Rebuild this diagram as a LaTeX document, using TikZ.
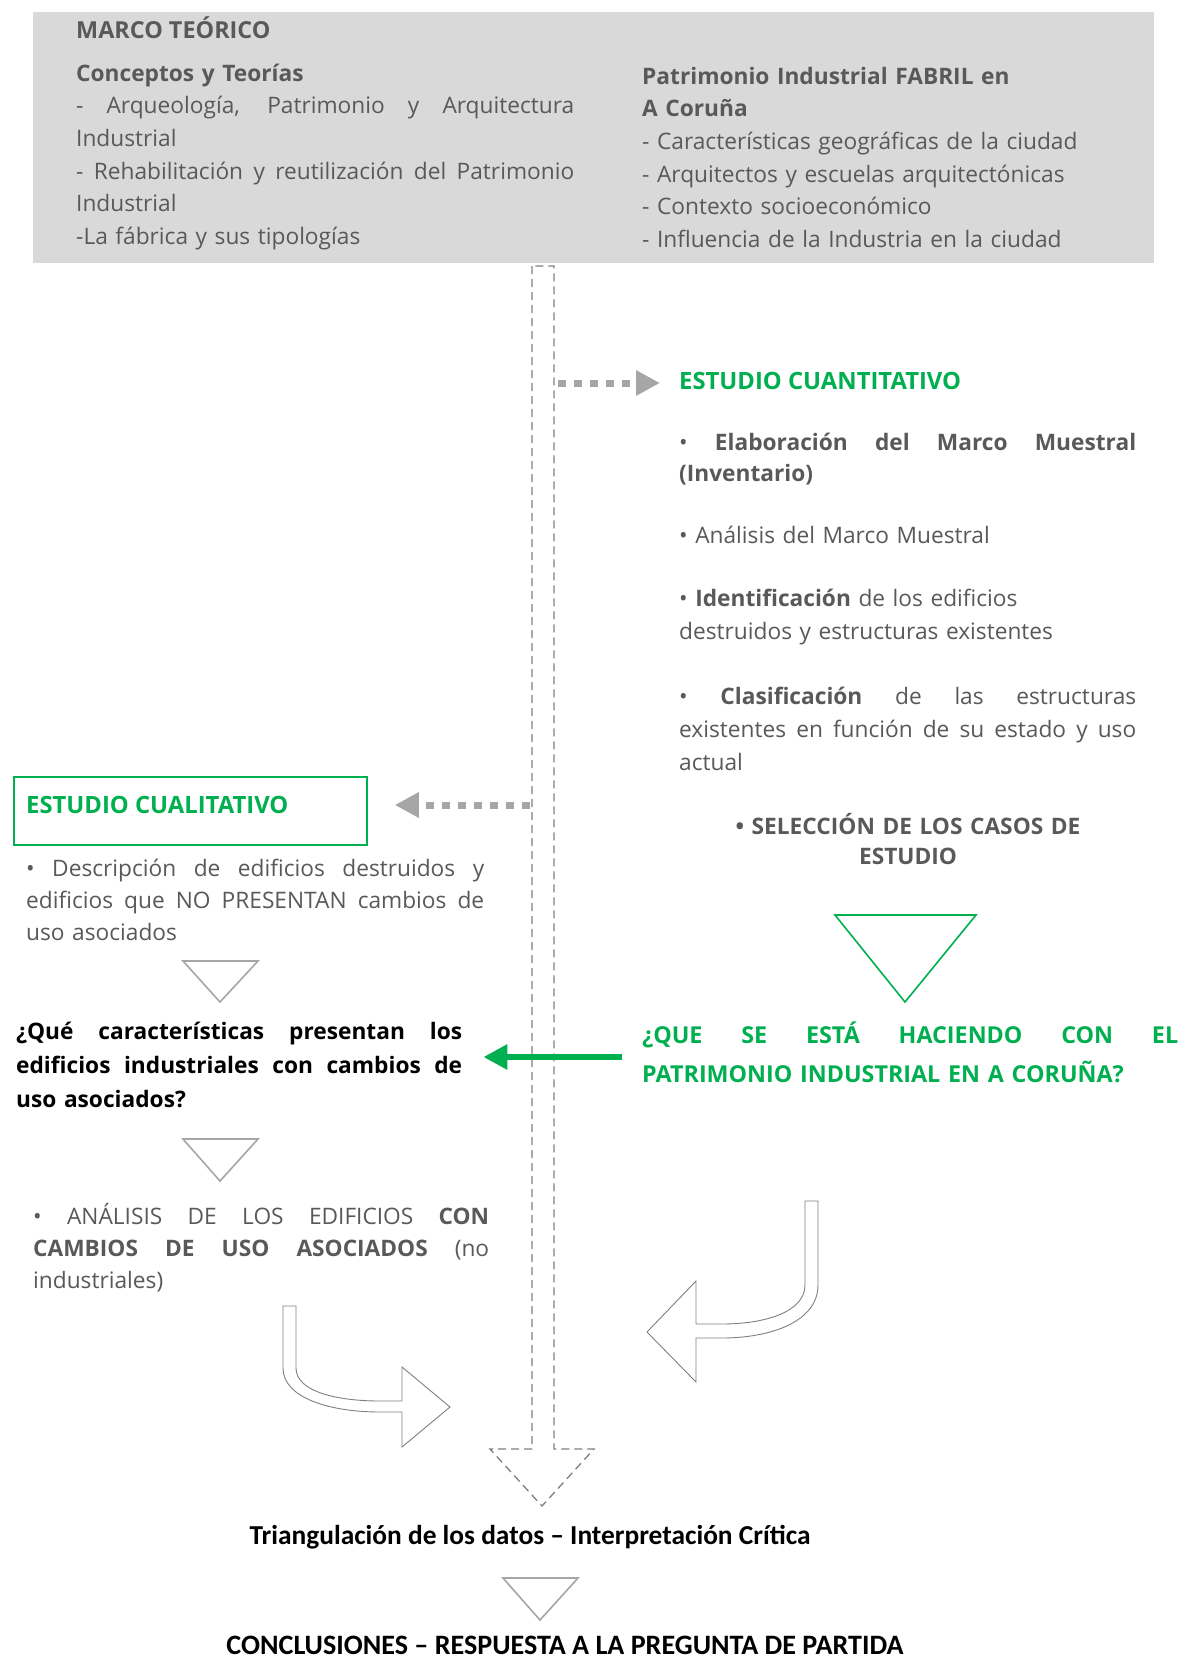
\documentclass[tikz,border=0pt]{standalone}
\usepackage{fontspec}
\usepackage{graphicx}
\setmainfont{Open Sans}
\newfontfamily\calibfont{Carlito}
\usetikzlibrary{arrows.meta,calc}
\definecolor{tgray}{HTML}{595959}
\definecolor{boxgray}{HTML}{D9D9D9}
\definecolor{grn}{HTML}{00B050}
\definecolor{dotgray}{HTML}{A6A6A6}
\definecolor{dashgray}{HTML}{808080}
\definecolor{trigray}{HTML}{A6A6A6}
\newcommand{\fs}{\rule{0pt}{24pt}}
\newcommand{\fz}[1]{\fontsize{22.7}{#1}\selectfont}
\newcommand{\fzb}[2]{\fontsize{#1}{#2}\selectfont}
\newcommand{\jl}[2]{\leavevmode{\spaceskip=0.26em plus 1fil\xspaceskip=0.26em plus 1fil\hbox to #1{#2}}}
\begin{document}
\begin{tikzpicture}[x=1pt,y=-1pt,
  tb/.style={anchor=north west, yshift=24pt, inner sep=0pt, align=left},
  cb/.style={anchor=north, yshift=24pt, inner sep=0pt, align=center},
  graytxt/.style={text=tgray},
  tri/.style={draw=trigray, line width=1.6pt, line join=miter},
  bendarrow/.style={draw=dashgray, line width=0.9pt, fill=white},
  dotarrow/.style={draw=dotgray, line width=7pt, dash pattern=on 8pt off 8pt, -{Triangle[length=24pt,width=24pt]}},
  mainarrow/.style={draw=dashgray, line width=1.3pt, dash pattern=on 8pt off 5pt},
]
\useasboundingbox (0,0) rectangle (1182,1660);
\fill[white] (0,0) rectangle (1182,1660);

% main dashed block arrow
\draw[mainarrow] (532,266) -- (532,1449) -- (490,1449) -- (542,1506) -- (594,1449) -- (554,1449) -- (554,266) -- cycle;

% theoretical framework box
\node[fill=boxgray, minimum width=1121pt, minimum height=251pt, anchor=north west, inner sep=0pt] (marco) at (33,12) {};
\node[tb, graytxt, font=\fzb{23.4}{32.6}\bfseries] (mtit) at (76,38) {\fs MARCO TEÓRICO};
\node[tb, graytxt, text width=498pt, font=\fz{32.6}] (teor) at (76,81)
  {\fs\textbf{Conceptos y Teorías}\\
   \jl{498pt}{- Arqueología, Patrimonio y Arquitectura}\\
   Industrial\\
   \jl{498pt}{- Rehabilitación y reutilización del Patrimonio}\\
   Industrial\\
   -La fábrica y sus tipologías};
\node[tb, graytxt, text width=500pt, font=\fz{32.6}] (patr) at (642,84)
  {\fs\textbf{Patrimonio Industrial FABRIL en}\\
   \textbf{A Coruña}\\
   - Características geográficas de la ciudad\\
   - Arquitectos y escuelas arquitectónicas\\
   - Contexto socioeconómico\\
   - Influencia de la Industria en la ciudad};

% quantitative study
\node[anchor=base west, inner sep=0pt, text=grn, font=\fzb{23.8}{30}\bfseries] (cuant) at (679,389) {ESTUDIO CUANTITATIVO};
\node[tb, graytxt, text width=457pt, font=\fz{31}] (elab) at (679,450)
  {\fs\jl{457pt}{\textbullet{} \textbf{Elaboración del Marco Muestral}}\\
   \textbf{(Inventario)}};
\node[tb, graytxt, text width=457pt, font=\fz{32}] (anal) at (679,543)
  {\fs\textbullet\ Análisis del Marco Muestral};
\node[tb, graytxt, text width=457pt, font=\fz{33}] (iden) at (679,606)
  {\fs\textbullet\ \textbf{Identificación} de los edificios\\
   destruidos y estructuras existentes};
\node[tb, graytxt, text width=457pt, font=\fz{33}] (clas) at (679,704)
  {\fs\jl{457pt}{\textbullet{} \textbf{Clasificación} de las estructuras}\\
   \jl{457pt}{existentes en función de su estado y uso}\\
   actual};
\node[cb, graytxt, text width=440pt, font=\fz{30}\bfseries] (sele) at (908,834)
  {\fs\textbullet\ SELECCIÓN DE LOS CASOS DE\\ ESTUDIO};
\draw[draw=grn, line width=1.6pt] (835,915) -- (976,915) -- (905,1002) -- cycle;
\node[tb, text=grn, text width=536pt, font=\fzb{23.3}{39}\bfseries] (gq) at (642,1043)
  {\fs\jl{536pt}{¿QUE SE ESTÁ HACIENDO CON EL}\\
   PATRIMONIO INDUSTRIAL EN A CORUÑA?};

% qualitative study
\node[draw=grn, line width=1.8pt, minimum width=353pt, minimum height=68pt, anchor=north west, inner sep=0pt] (cualbox) at (13,776) {};
\node[anchor=base west, inner sep=0pt, text=grn, font=\fzb{23.8}{30}\bfseries] (cual) at (26,813) {ESTUDIO CUALITATIVO};
\node[tb, graytxt, text width=458pt, font=\fz{32}] (desc) at (26,876)
  {\fs\jl{458pt}{\textbullet{} Descripción de edificios destruidos y}\\
   \jl{458pt}{edificios que NO PRESENTAN cambios de}\\
   uso asociados};
\draw[tri] (183,961) -- (258,961) -- (220,1002) -- cycle;
\node[tb, text=black, text width=446pt, font=\fz{34}\bfseries] (qleft) at (16,1039)
  {\fs\jl{446pt}{¿Qué características presentan los}\\
   \jl{446pt}{edificios industriales con cambios de}\\
   uso asociados?};
\draw[tri] (183,1139) -- (258,1139) -- (220,1181) -- cycle;
\node[tb, graytxt, text width=456pt, font=\fz{32}] (analisis) at (33,1224)
  {\fs\jl{456pt}{\textbullet{} ANÁLISIS DE LOS EDIFICIOS \textbf{CON}}\\
   \jl{456pt}{\textbf{CAMBIOS DE USO ASOCIADOS} (no}\\
   industriales)};

% dotted connectors from the main arrow
\coordinate (d1s) at (558,383);
\draw[dotarrow] (d1s) -- ($(cuant.west |- d1s)+(-19,0)$);
\coordinate (d2s) at (530,805);
\draw[dotarrow] (d2s) -- ($(cualbox.east |- d2s)+(27,0)$);

% green arrow
\coordinate (g1) at (622,1057);
\draw[draw=grn, line width=6.5pt, -{Triangle[length=24pt,width=24pt]}] (g1) -- ($(qleft.east |- g1)+(21,0)$);

% bent arrows
\filldraw[bendarrow] (283,1306) -- (283,1368) .. controls (283,1398) and (330,1412) .. (380,1412) -- (402,1412) -- (402,1447) -- (450,1407) -- (402,1367) -- (402,1401) -- (380,1401) .. controls (338,1401) and (296,1392) .. (296,1368) -- (296,1306) -- cycle;
\filldraw[bendarrow] (805,1201) -- (818,1201) -- (818,1285) .. controls (818,1322) and (770,1338) .. (722,1338) -- (696,1338) -- (696,1382) -- (647,1332) -- (696,1281) -- (696,1324) -- (722,1324) .. controls (765,1324) and (805,1312) .. (805,1285) -- cycle;

% bottom
\node[anchor=base, inner sep=0pt] (triang) at (530,1544)
  {\resizebox{561pt}{!}{\calibfont\bfseries\fontsize{25}{30}\selectfont Triangulación de los datos – Interpretación Crítica}};
\draw[tri] (503,1578) -- (578,1578) -- (540,1620) -- cycle;
\node[anchor=base, inner sep=0pt] (concl) at (565,1654)
  {\resizebox{677pt}{!}{\calibfont\bfseries\fontsize{26}{30}\selectfont CONCLUSIONES – RESPUESTA A LA PREGUNTA DE PARTIDA}};
\end{tikzpicture}
\end{document}
